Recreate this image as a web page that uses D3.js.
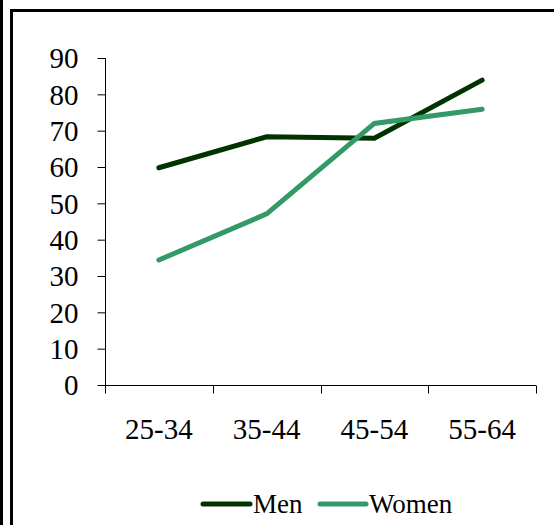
<!DOCTYPE html>
<html>
<head>
<meta charset="utf-8">
<script src="https://cdn.jsdelivr.net/npm/d3@7"></script>
<style>
  html, body { margin: 0; padding: 0; background: #fff; }
  svg { display: block; }
  text { font-family: "Liberation Serif", "Times New Roman", serif; fill: #000; }
</style>
</head>
<body>
<svg id="chart" width="554" height="525"></svg>
<script>
// Age groups and shares for each sex
const categories = ["25-34", "35-44", "45-54", "55-64"];
const men = [59.8, 68.3, 67.9, 83.9];
const women = [34.4, 47.1, 72.0, 75.9];
const yTicks = [0, 10, 20, 30, 40, 50, 60, 70, 80, 90];
const seriesNames = ["Men", "Women"];
const seriesColors = ["#003300", "#339966"];

const series = [
  { name: seriesNames[0], values: men, color: seriesColors[0] },
  { name: seriesNames[1], values: women, color: seriesColors[1] }
];

const svg = d3.select("#chart");

// Frame: outer left rule and inner box
svg.append("line")
  .attr("x1", 1.5).attr("x2", 1.5).attr("y1", 0).attr("y2", 525)
  .attr("stroke", "#000").attr("stroke-width", 3);
svg.append("path")
  .attr("d", "M11.5,525 V10.5 H554")
  .attr("fill", "none").attr("stroke", "#000").attr("stroke-width", 3);

const plotLeft = 105, plotRight = 536, plotTop = 58, plotBottom = 385;

const x = d3.scaleBand().domain(categories).range([plotLeft, plotRight]).padding(0);
const y = d3.scaleLinear().domain([0, 90]).range([plotBottom, plotTop]);

// Y axis
const yAxis = svg.append("g")
  .attr("transform", `translate(${plotLeft + 0.5},0)`)
  .call(d3.axisLeft(y).tickValues(yTicks).tickSize(8).tickPadding(19).tickFormat(d3.format("d")));
yAxis.select(".domain").attr("d", `M0,${plotTop}V${plotBottom}`).attr("stroke", "#000");
yAxis.selectAll(".tick line").attr("stroke", "#000");
yAxis.selectAll(".tick text")
  .attr("font-size", 29)
  .attr("font-family", "Liberation Serif")
  .attr("dy", "0.34em");

// X axis with tick marks at category boundaries
const xAxis = svg.append("g").attr("transform", `translate(0,${plotBottom + 0.5})`);
xAxis.append("line")
  .attr("x1", plotLeft).attr("x2", plotRight)
  .attr("stroke", "#000");
const bounds = categories.map(c => x(c)).concat([x(categories[categories.length - 1]) + x.bandwidth()]);
xAxis.selectAll("line.tk").data(bounds).join("line")
  .attr("class", "tk")
  .attr("x1", d => Math.round(d) + 0.5).attr("x2", d => Math.round(d) + 0.5)
  .attr("y1", 0).attr("y2", 8)
  .attr("stroke", "#000");
xAxis.selectAll("text").data(categories).join("text")
  .attr("x", d => x(d) + x.bandwidth() / 2)
  .attr("y", 53)
  .attr("text-anchor", "middle")
  .attr("font-size", 29)
  .text(d => d);

// Lines
const line = d3.line()
  .x((d, i) => x(categories[i]) + x.bandwidth() / 2)
  .y(d => y(d));

svg.append("g").selectAll("path").data(series).join("path")
  .attr("d", d => line(d.values))
  .attr("fill", "none")
  .attr("stroke", d => d.color)
  .attr("stroke-width", 5)
  .attr("stroke-linecap", "round")
  .attr("stroke-linejoin", "miter");

// Legend
const legendY = 504;
const legendItems = [
  { x0: 201, x1: 252 },
  { x0: 318, x1: 368 }
];
const legend = svg.append("g");
series.forEach((s, i) => {
  const it = legendItems[i];
  legend.append("line")
    .attr("x1", it.x0 + 2).attr("x2", it.x1 - 2)
    .attr("y1", legendY).attr("y2", legendY)
    .attr("stroke", s.color).attr("stroke-width", 5)
    .attr("stroke-linecap", "round");
  legend.append("text")
    .attr("x", it.x1 + 1)
    .attr("y", legendY + 9)
    .attr("font-size", 27)
    .text(s.name);
});
</script>
</body>
</html>
